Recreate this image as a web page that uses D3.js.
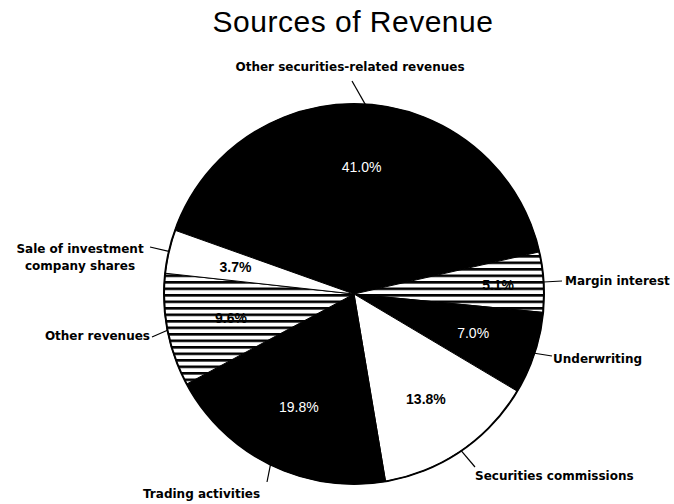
<!DOCTYPE html>
<meta charset="utf-8">
<style>
body { margin: 0; background: #fff; }
svg { display: block; }
.title { font-family: "Liberation Sans", Arial, sans-serif; font-size: 30px; letter-spacing: 0.5px; }
.cat { font-family: "DejaVu Sans", sans-serif; font-size: 12px; font-weight: bold; }
.pct { font-family: "Liberation Sans", Arial, sans-serif; font-size: 14px; }
</style>
<svg width="674" height="504"></svg>
<script src="https://cdn.jsdelivr.net/npm/d3@7"></script>
<script>

// data, clockwise starting with the big slice
var categories = ["Other securities-related revenues", "Margin interest", "Underwriting",
                  "Securities commissions", "Trading activities", "Other revenues",
                  "Sale of investment company shares"];
var shares = [41.0, 5.1, 7.0, 13.8, 19.8, 9.6, 3.7];
var fills = ["black", "hatch", "black", "white", "black", "hatch", "white"];

var width = 674, height = 504,
    cx = 354, cy = 294, R = 190;

var svg = d3.select("svg");

var defs = svg.append("defs");
var pat = defs.append("pattern")
    .attr("id", "hatch")
    .attr("patternUnits", "userSpaceOnUse")
    .attr("width", 8).attr("height", 6.5);
pat.append("rect").attr("width", 8).attr("height", 6.5).attr("fill", "#fff");
pat.append("rect").attr("y", 0).attr("width", 8).attr("height", 2.6).attr("fill", "#000");

svg.append("text")
    .attr("class", "title")
    .attr("x", 353).attr("y", 32)
    .attr("text-anchor", "middle")
    .text("Sources of Revenue");

var data = categories.map(function(c, i) { return {name: c, value: shares[i], fill: fills[i]}; });

var pie = d3.pie()
    .sort(null)
    .value(function(d) { return d.value; })
    .startAngle(-70.4 * Math.PI / 180)
    .endAngle((360 - 70.4) * Math.PI / 180);

var arcs = pie(data);
var arc = d3.arc().innerRadius(0).outerRadius(R);

var g = svg.append("g").attr("transform", "translate(" + cx + "," + cy + ")");

g.selectAll("path.slice")
  .data(arcs)
  .enter().append("path")
    .attr("class", "slice")
    .attr("d", arc)
    .attr("fill", function(d) { return d.data.fill === "hatch" ? "url(#hatch)" : d.data.fill; })
    .attr("stroke", "#000")
    .attr("stroke-width", 1);

g.append("circle").attr("r", R).attr("fill", "none").attr("stroke", "#000").attr("stroke-width", 2);

function mid(d) { return (d.startAngle + d.endAngle) / 2; }
function pt(a, r) { return [Math.sin(a) * r, -Math.cos(a) * r]; }

// percent labels
var pctR = [0.67, 0.76, 0.66, 0.67, 0.66, 0.66, 0.64];
g.selectAll("text.pct")
  .data(arcs)
  .enter().append("text")
    .attr("class", "pct")
    .attr("x", function(d, i) { return pt(mid(d), R * pctR[i])[0]; })
    .attr("y", function(d, i) { return pt(mid(d), R * pctR[i])[1] + 5; })
    .attr("text-anchor", "middle")
    .attr("fill", function(d) { return d.data.fill === "black" ? "#fff" : "#000"; })
    .attr("font-weight", function(d) { return d.data.fill === "black" ? "normal" : "bold"; })
    .text(function(d) { return d.data.value.toFixed(1) + "%"; });

// leader lines and category labels: end of leader, text anchor point
var leaders = [
  {end: [-2, -213], tx: -4, ty: -223, anchor: "middle"},
  {end: [208, -13], tx: 211, ty: -9, anchor: "start"},
  {end: [198, 62], tx: 199, ty: 69, anchor: "start"},
  {end: [121, 173], tx: 121, ty: 186, anchor: "start"},
  {end: [-87, 188], tx: -211, ty: 204, anchor: "start"},
  {end: [-202, 43], tx: -204, ty: 46, anchor: "end"},
  {end: [-204, -47], tx: -274, ty: -41, anchor: "middle"}
];

g.selectAll("line.lead")
  .data(arcs)
  .enter().append("line")
    .attr("class", "lead")
    .attr("x1", function(d) { return pt(mid(d), R)[0]; })
    .attr("y1", function(d) { return pt(mid(d), R)[1]; })
    .attr("x2", function(d, i) { return leaders[i].end[0]; })
    .attr("y2", function(d, i) { return leaders[i].end[1]; })
    .attr("stroke", "#000")
    .attr("stroke-width", 1.2);

var labels = g.selectAll("text.cat")
  .data(arcs)
  .enter().append("text")
    .attr("class", "cat")
    .attr("x", function(d, i) { return leaders[i].tx; })
    .attr("y", function(d, i) { return leaders[i].ty; })
    .attr("text-anchor", function(d, i) { return leaders[i].anchor; });

labels.each(function(d, i) {
  var t = d3.select(this);
  if (d.data.name === "Sale of investment company shares") {
    t.append("tspan").attr("x", leaders[i].tx).text("Sale of investment");
    t.append("tspan").attr("x", leaders[i].tx).attr("dy", 17).text("company shares");
  } else {
    t.text(d.data.name);
  }
});

</script>
